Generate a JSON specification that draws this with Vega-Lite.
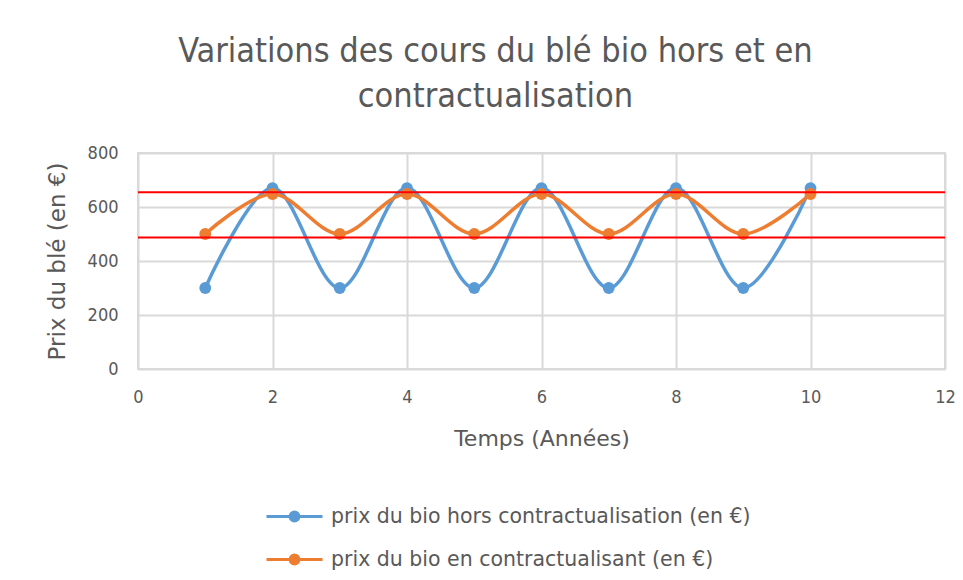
{
  "$schema": "https://vega.github.io/schema/vega-lite/v6.json",
  "autosize": "none",
  "width": 807,
  "height": 216,
  "padding": {"left": 138, "top": 153, "right": 18, "bottom": 211},
  "background": "#ffffff",
  "title": {
    "text": ["Variations des cours du blé bio hors et en", "contractualisation"],
    "fontSize": 34,
    "font": "DejaVu Sans Condensed, sans-serif",
    "fontWeight": "normal",
    "color": "#595959",
    "lineHeight": 45,
    "anchor": "middle",
    "dx": -46,
    "offset": 30
  },
  "datasets": {
    "series": [
      {"annee": 1, "prix": 300, "serie": "prix du bio hors contractualisation (en €)"},
      {"annee": 2, "prix": 670, "serie": "prix du bio hors contractualisation (en €)"},
      {"annee": 3, "prix": 300, "serie": "prix du bio hors contractualisation (en €)"},
      {"annee": 4, "prix": 670, "serie": "prix du bio hors contractualisation (en €)"},
      {"annee": 5, "prix": 300, "serie": "prix du bio hors contractualisation (en €)"},
      {"annee": 6, "prix": 670, "serie": "prix du bio hors contractualisation (en €)"},
      {"annee": 7, "prix": 300, "serie": "prix du bio hors contractualisation (en €)"},
      {"annee": 8, "prix": 670, "serie": "prix du bio hors contractualisation (en €)"},
      {"annee": 9, "prix": 300, "serie": "prix du bio hors contractualisation (en €)"},
      {"annee": 10, "prix": 670, "serie": "prix du bio hors contractualisation (en €)"},
      {"annee": 1, "prix": 500, "serie": "prix du bio en contractualisant (en €)"},
      {"annee": 2, "prix": 648, "serie": "prix du bio en contractualisant (en €)"},
      {"annee": 3, "prix": 500, "serie": "prix du bio en contractualisant (en €)"},
      {"annee": 4, "prix": 648, "serie": "prix du bio en contractualisant (en €)"},
      {"annee": 5, "prix": 500, "serie": "prix du bio en contractualisant (en €)"},
      {"annee": 6, "prix": 648, "serie": "prix du bio en contractualisant (en €)"},
      {"annee": 7, "prix": 500, "serie": "prix du bio en contractualisant (en €)"},
      {"annee": 8, "prix": 648, "serie": "prix du bio en contractualisant (en €)"},
      {"annee": 9, "prix": 500, "serie": "prix du bio en contractualisant (en €)"},
      {"annee": 10, "prix": 648, "serie": "prix du bio en contractualisant (en €)"}
    ],
    "seuils": [
      {"niveau": 655},
      {"niveau": 487}
    ]
  },
  "config": {
    "view": {"stroke": "#d9d9d9", "strokeWidth": 2},
    "font": "DejaVu Sans Condensed, sans-serif",
    "axis": {
      "labelFont": "DejaVu Sans Condensed, sans-serif",
      "titleFont": "DejaVu Sans, sans-serif",
      "labelColor": "#595959",
      "titleColor": "#595959",
      "labelFontSize": 18,
      "titleFontWeight": "normal",
      "gridColor": "#d9d9d9",
      "gridWidth": 2,
      "domain": false,
      "ticks": false
    }
  },
  "layer": [
    {
      "data": {"name": "series"},
      "mark": {"type": "line", "interpolate": "catmull-rom", "strokeWidth": 3.5},
      "encoding": {
        "x": {
          "field": "annee", "type": "quantitative",
          "scale": {"domain": [0, 12], "nice": false},
          "axis": {"values": [0, 2, 4, 6, 8, 10, 12], "format": "d", "title": "Temps  (Années)", "titleFontSize": 22, "labelPadding": 19, "labelFlush": false, "titlePadding": 22}
        },
        "y": {
          "field": "prix", "type": "quantitative",
          "scale": {"domain": [0, 800], "nice": false},
          "axis": {"values": [0, 200, 400, 600, 800], "format": "d", "title": "Prix du blé (en €)", "titleFontSize": 23, "labelPadding": 20, "labelFlush": false, "titlePadding": 18}
        },
        "color": {
          "field": "serie", "type": "nominal",
          "scale": {
            "domain": ["prix du bio hors contractualisation (en €)", "prix du bio en contractualisant (en €)"],
            "range": ["#5b9bd5", "#ed7d31"]
          },
          "legend": {
            "title": null,
            "orient": "none",
            "legendX": 135,
            "legendY": 342,
            "direction": "vertical",
            "symbolType": "M-1.4,0H1.4M0.22,0A0.22,0.22 0 1,1 -0.22,0A0.22,0.22 0 1,1 0.22,0Z",
            "symbolSize": 1600,
            "symbolStrokeWidth": 3,
            "labelFontSize": 20.5,
            "labelColor": "#595959",
            "labelFont": "DejaVu Sans, sans-serif",
            "labelOffset": 15,
            "rowPadding": 11,
            "labelLimit": 600
          }
        }
      }
    },
    {
      "data": {"name": "series"},
      "mark": {"type": "point", "filled": true, "size": 140, "opacity": 1},
      "encoding": {
        "x": {"field": "annee", "type": "quantitative"},
        "y": {"field": "prix", "type": "quantitative"},
        "color": {"field": "serie", "type": "nominal"}
      }
    },
    {
      "data": {"name": "seuils"},
      "mark": {"type": "rule", "color": "#ff0000", "strokeWidth": 2},
      "encoding": {
        "y": {"field": "niveau", "type": "quantitative"}
      }
    }
  ]
}
